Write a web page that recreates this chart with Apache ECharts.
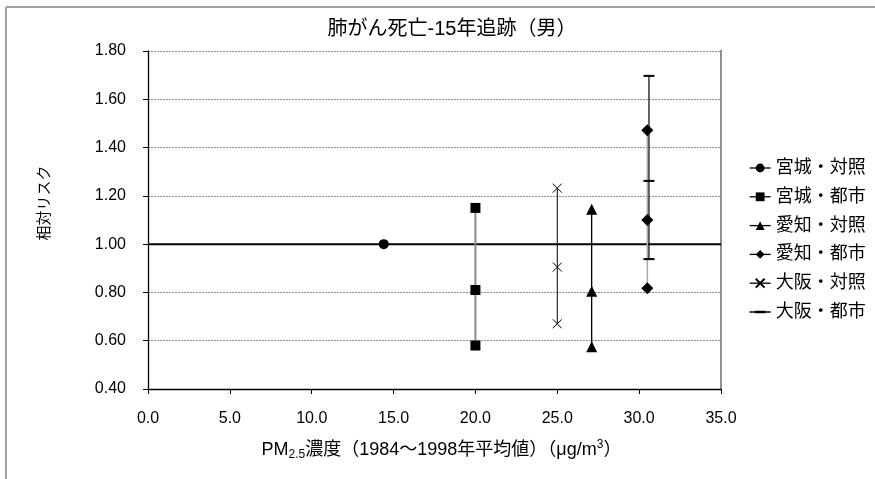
<!DOCTYPE html>
<html><head><meta charset="utf-8">
<script src="https://cdn.jsdelivr.net/npm/echarts@6/dist/echarts.min.js"></script>
<style>html,body{margin:0;padding:0;background:#fff}#c{width:875px;height:479px}</style>
</head><body><div id="c"></div>
<script>
const seriesNames = ['宮城・対照','宮城・都市','愛知・対照','愛知・都市','大阪・対照','大阪・都市'];
const xMiyagiCtrl = 14.4,  yMiyagiCtrl = [1.00];
const xMiyagiUrb = 20.0,   yMiyagiUrb = [0.58, 0.81, 1.15];
const xAichiCtrl = 27.1,   yAichiCtrl = [0.575, 0.805, 1.145];
const xAichiUrb = 30.5,    yAichiUrb = [0.817, 1.10, 1.472];
const xOsakaCtrl = 25.0,   yOsakaCtrl = [0.67, 0.905, 1.232];
const xOsakaUrb = 30.6,    yOsakaUrb = [0.938, 1.262, 1.697];
const referenceRisk = 1.0;
const xTicks = [0,5,10,15,20,25,30,35];
const yTicks = [0.4,0.6,0.8,1.0,1.2,1.4,1.6,1.8];

const FONT = "'Liberation Sans', 'Noto Sans CJK JP', sans-serif";
const DASH_ICON = 'path://M0,0M20,10M0,4.4L20,4.4L20,5.6L0,5.6Z M5,3.7L15,3.7L15,6.3L5,6.3Z';
const pts = (x, ys) => ys.map(y => [x, y]);
const groups = [
  {x:xMiyagiCtrl, y:yMiyagiCtrl, sym:'circle', size:10, line:'#000', w:1.3},
  {x:xMiyagiUrb, y:yMiyagiUrb, sym:'rect', size:10, line:'#8a8a8a', w:2},
  {x:xAichiCtrl, y:yAichiCtrl, sym:'triangle', size:11, line:'#000', w:1.3},
  {x:xAichiUrb, y:yAichiUrb, sym:'diamond', size:12, line:'#a8a8a8', w:1.5},
  {x:xOsakaCtrl, y:yOsakaCtrl, sym:'path://M0,0L10,10M10,0L0,10', size:9, line:'#000', w:1, stroke:true},
  {x:xOsakaUrb, y:yOsakaUrb, sym:'rect', size:[11,2], line:'#000', w:1.2}
];
const series = groups.map((g, i) => ({
  name: seriesNames[i],
  type: 'line',
  data: pts(g.x, g.y),
  symbol: g.sym,
  symbolSize: g.size,
  showAllSymbol: true,
  z: 5,
  lineStyle: {color: g.line, width: g.w},
  itemStyle: g.stroke ? {color: 'rgba(0,0,0,0)', borderColor: '#000', borderWidth: 1} : {color: '#000', borderWidth: 0},
  emphasis: {disabled: true},
  animation: false
}));
series.push({
  name: 'ref', type: 'line', data: [[xTicks[0], referenceRisk],[xTicks[xTicks.length-1], referenceRisk]],
  symbol: 'none', lineStyle: {color:'#000', width: 2}, z: 3, animation:false, silent:true
});

const legendData = seriesNames.map((n, i) => {
  const d = {name: n, lineStyle: {color: '#000', width: 1.3}};
  if (i === 5) d.icon = DASH_ICON;
  return d;
});

const chart = echarts.init(document.getElementById('c'), null, {renderer:'canvas'});
chart.setOption({
  animation: false,
  textStyle: {fontFamily: FONT},
  title: {text: '肺がん死亡-15年追跡（男）', left: 447, textAlign: 'center', top: 14,
    textStyle: {fontFamily: FONT, fontSize: 20, fontWeight: 'normal', color: '#000'}},
  grid: {left: 148, right: 154, top: 51, bottom: 90, show: false},
  legend: {
    orient: 'vertical', left: 744, top: 154, itemWidth: 21, itemHeight: 11, itemGap: 10.8,
    data: legendData,
    textStyle: {fontFamily: FONT, fontSize: 18, color: '#000'},
    selectedMode: false
  },
  xAxis: {
    type: 'value', min: 0, max: 35, interval: 5,
    axisLine: {show: true, onZero: false, lineStyle: {color: '#000', width: 1.3}},
    axisTick: {show: true, inside: false, length: 5, lineStyle: {color: '#000'}},
    axisLabel: {formatter: v => v.toFixed(1), fontSize: 16, color: '#000', fontFamily: FONT, margin: 22},
    splitLine: {show: false},
    name: '{a|PM}{s|2.5}{a|濃度（1984～1998年平均値）（μg/m}{p|3}{a|）}',
    nameLocation: 'middle', nameGap: 50,
    nameTextStyle: {
      padding: [0, 0, 0, 14],
      rich: {
        a: {fontSize: 18, color: '#000', fontFamily: FONT, lineHeight: 22, verticalAlign: 'middle'},
        s: {fontSize: 12, color: '#000', fontFamily: FONT, padding: [9,0,0,0], verticalAlign: 'middle'},
        p: {fontSize: 12, color: '#000', fontFamily: FONT, padding: [0,0,10,0], verticalAlign: 'middle'}
      }
    }
  },
  yAxis: {
    type: 'value', min: 0.4, max: 1.8, interval: 0.2,
    axisLine: {show: true, lineStyle: {color: '#000', width: 1.3}},
    axisTick: {show: true, inside: false, length: 5, lineStyle: {color: '#000'}},
    axisLabel: {formatter: v => v.toFixed(2), fontSize: 16, color: '#000', fontFamily: FONT, margin: 22},
    splitLine: {show: true, lineStyle: {color: '#8c8c8c', type: [2,1], width: 1}},
    name: '相対リスク', nameLocation: 'middle', nameGap: 96, nameRotate: 90,
    nameTextStyle: {fontSize: 15, color: '#000', fontFamily: FONT, padding: [0, 0, 0, 34]}
  },
  graphic: [
    {type: 'line', shape: {x1: 6, y1: 7, x2: 875, y2: 7}, style: {stroke: '#a0a0a0', lineWidth: 2}, silent: true},
    {type: 'line', shape: {x1: 6, y1: 7, x2: 6, y2: 479}, style: {stroke: '#a0a0a0', lineWidth: 2}, silent: true},
    {type: 'line', shape: {x1: 721, y1: 50, x2: 721, y2: 389}, style: {stroke: '#909090', lineWidth: 2}, silent: true}
  ],
  series: series
});
</script></body></html>
